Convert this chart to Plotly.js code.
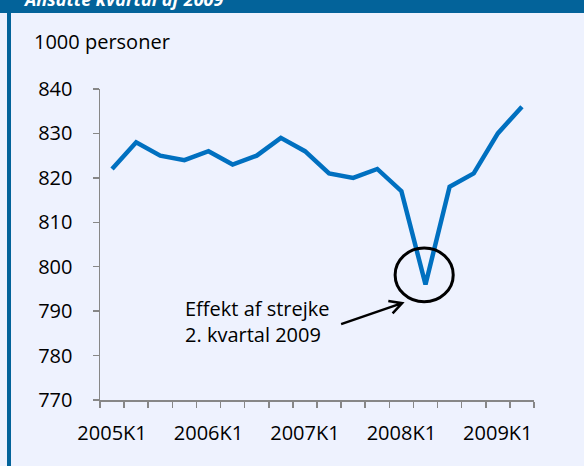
<!DOCTYPE html>
<html>
<head>
<meta charset="utf-8">
<script src="https://cdn.plot.ly/plotly-3.0.1.min.js"></script>
<style>
  html, body { margin: 0; padding: 0; background: #eef2fe; }
  #wrap { position: relative; width: 584px; height: 466px; overflow: hidden; background: #eef2fe; }
  #bar { position: absolute; left: 0; top: 0; width: 584px; height: 13px; background: #03639a; overflow: hidden; }
  #bar span { position: absolute; left: 25px; top: -12px; font-family: "Open Sans", sans-serif; font-weight: bold; font-style: italic; font-size: 18px; line-height: 22px; color: #ffffff; white-space: nowrap; }
  #border { position: absolute; left: 7px; top: 13px; width: 4px; height: 453px; background: #03639a; }
  #chart { position: absolute; left: 0; top: 0; width: 584px; height: 466px; }
</style>
</head>
<body>
<div id="wrap">
  <div id="bar"><span>Ansatte kvartal af 2009</span></div>
  <div id="border"></div>
  <div id="chart"></div>
</div>
<script>
// Data
const quarters = ["2005K1","2005K2","2005K3","2005K4",
                  "2006K1","2006K2","2006K3","2006K4",
                  "2007K1","2007K2","2007K3","2007K4",
                  "2008K1","2008K2","2008K3","2008K4",
                  "2009K1","2009K2"];
const persons = [822, 828, 825, 824,
                 826, 823, 825, 829,
                 826, 821, 820, 822,
                 817, 796, 818, 821,
                 830, 836];
const yTicks = [770, 780, 790, 800, 810, 820, 830, 840];
const unitLabel = "1000 personer";
const noteText = "Effekt af strejke<br>2. kvartal 2009";

const tickText = quarters.map(q => q.endsWith("K1") ? q : "");
const font = { family: "Open Sans, sans-serif", size: 20, color: "#000000" };
const axisGray = "#878787";

const trace = {
  x: quarters,
  y: persons,
  type: "scatter",
  mode: "lines",
  line: { color: "#0070c0", width: 4.5 },
  hoverinfo: "skip"
};

const layout = {
  width: 584,
  height: 466,
  margin: { l: 100, r: 50, t: 89, b: 66 },
  paper_bgcolor: "rgba(0,0,0,0)",
  plot_bgcolor: "rgba(0,0,0,0)",
  showlegend: false,
  font: font,
  xaxis: {
    type: "category",
    range: [-0.5, quarters.length - 0.5],
    tickmode: "array",
    tickvals: quarters,
    ticktext: tickText,
    tickson: "boundaries",
    tickangle: 0,
    ticks: "outside",
    ticklen: 6,
    tickwidth: 1.5,
    tickcolor: axisGray,
    showline: true,
    linecolor: axisGray,
    linewidth: 1.5,
    showgrid: false,
    zeroline: false,
    tickfont: font,
    ticklabelstandoff: 14
  },
  yaxis: {
    range: [770, 840],
    tickmode: "array",
    tickvals: yTicks,
    ticktext: yTicks.map(String),
    ticks: "outside",
    ticklen: 6,
    tickwidth: 1.5,
    tickcolor: axisGray,
    showline: true,
    linecolor: axisGray,
    linewidth: 1.5,
    showgrid: false,
    zeroline: false,
    tickfont: font,
    ticklabelstandoff: 16
  },
  annotations: [
    {
      text: unitLabel,
      xref: "paper", yref: "paper",
      x: -0.157, y: 1.152,
      xanchor: "left", yanchor: "middle",
      showarrow: false,
      font: font
    },
    {
      text: noteText,
      xref: "x", yref: "y",
      x: 2.95, y: 787.6,
      xanchor: "left", yanchor: "middle",
      align: "left",
      showarrow: false,
      font: font
    }
  ],
  shapes: [
    {
      type: "circle",
      xref: "x", yref: "y",
      x0: 11.74, x1: 14.15, y0: 792.1, y1: 804.2,
      line: { color: "#000000", width: 3 }
    },
    {
      type: "path",
      xref: "x", yref: "y",
      xsizemode: "pixel", ysizemode: "pixel",
      xanchor: 12.03, yanchor: 791.8,
      path: "M -61,-21 L 0,0 M -9.5,-10.2 L 0,0 L -13.8,2.2",
      line: { color: "#000000", width: 2.5 }
    }
  ]
};

Plotly.newPlot("chart", [trace], layout, { displayModeBar: false, staticPlot: true });
</script>
</body>
</html>
